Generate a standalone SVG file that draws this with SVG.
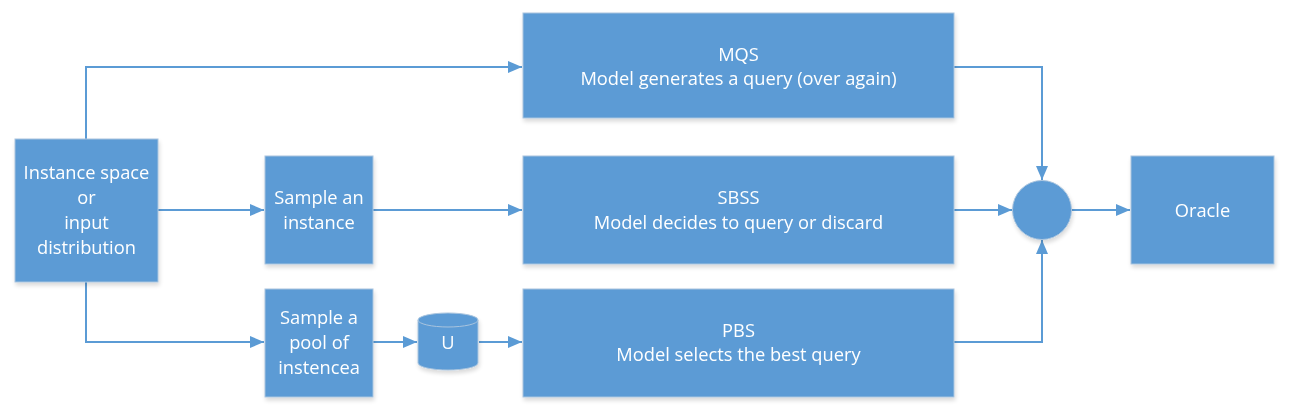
<svg xmlns="http://www.w3.org/2000/svg" width="1291" height="416" viewBox="0 0 1291 416">
<style>
.box{fill:#5B9BD5;stroke:#A9C4DE;stroke-width:1}
.t{font-family:"Open Sans","Noto Sans",sans-serif;font-size:18.3px;fill:#FFFFFF;text-anchor:middle}
.c{fill:none;stroke:#5B9BD5;stroke-width:2}
</style>
<defs>
<marker id="ah" markerWidth="14" markerHeight="12" refX="14" refY="6" orient="auto" markerUnits="userSpaceOnUse">
<path d="M0,0 L14,6 L0,12 Z" fill="#5B9BD5"/>
</marker>
<filter id="sh" x="-10%" y="-10%" width="130%" height="130%">
<feGaussianBlur in="SourceAlpha" stdDeviation="2"/>
<feOffset dx="1" dy="3"/>
<feComponentTransfer><feFuncA type="linear" slope="0.15"/></feComponentTransfer>
<feMerge><feMergeNode/><feMergeNode in="SourceGraphic"/></feMerge>
</filter>
</defs>
<g id="connectors">
<path class="c" d="M86,139 V67 H522" marker-end="url(#ah)"/>
<path class="c" d="M158,210 H264" marker-end="url(#ah)"/>
<path class="c" d="M86,282 V342 H264" marker-end="url(#ah)"/>
<path class="c" d="M373,210 H522" marker-end="url(#ah)"/>
<path class="c" d="M373,342 H417" marker-end="url(#ah)"/>
<path class="c" d="M479,342 H522" marker-end="url(#ah)"/>
<path class="c" d="M954,67 H1042 V180" marker-end="url(#ah)"/>
<path class="c" d="M954,210 H1012" marker-end="url(#ah)"/>
<path class="c" d="M954,342 H1042 V240" marker-end="url(#ah)"/>
<path class="c" d="M1071,210 H1130" marker-end="url(#ah)"/>
</g>
<g id="instance-space" filter="url(#sh)">
<rect class="box" x="15" y="139" width="143" height="143"/>
<text class="t" x="86.5" y="179">Instance space</text>
<text class="t" x="86.5" y="204">or</text>
<text class="t" x="86.5" y="229">input</text>
<text class="t" x="86.5" y="254">distribution</text>
</g>
<g id="sample-instance" filter="url(#sh)">
<rect class="box" x="265" y="156" width="108" height="108"/>
<text class="t" x="319" y="204">Sample an</text>
<text class="t" x="319" y="229">instance</text>
</g>
<g id="sample-pool" filter="url(#sh)">
<rect class="box" x="265" y="289" width="108" height="108"/>
<text class="t" x="319" y="324">Sample a</text>
<text class="t" x="319" y="349">pool of</text>
<text class="t" x="319" y="374">instencea</text>
</g>
<g id="u" filter="url(#sh)">
<path class="box" d="M418,320 A30,7 0 0 1 478,320 V363 A30,7 0 0 1 418,363 Z"/>
<path d="M418,320 A30,7 0 0 0 478,320" fill="none" stroke="#A9C4DE" stroke-width="1"/>
<text class="t" x="448" y="349">U</text>
</g>
<g id="mqs" filter="url(#sh)">
<rect class="box" x="523" y="13" width="431" height="105"/>
<text class="t" x="738.5" y="61">MQS</text>
<text class="t" x="738.5" y="85">Model generates a query (over again)</text>
</g>
<g id="sbss" filter="url(#sh)">
<rect class="box" x="523" y="156" width="431" height="108"/>
<text class="t" x="738.5" y="204">SBSS</text>
<text class="t" x="738.5" y="229">Model decides to query or discard</text>
</g>
<g id="pbs" filter="url(#sh)">
<rect class="box" x="523" y="289" width="431" height="108"/>
<text class="t" x="738.5" y="337">PBS</text>
<text class="t" x="738.5" y="361">Model selects the best query</text>
</g>
<g id="merge" filter="url(#sh)">
<circle class="box" cx="1042" cy="210" r="29.5"/>
</g>
<g id="oracle" filter="url(#sh)">
<rect class="box" x="1131" y="156" width="143" height="108"/>
<text class="t" x="1202.5" y="217">Oracle</text>
</g>
</svg>
